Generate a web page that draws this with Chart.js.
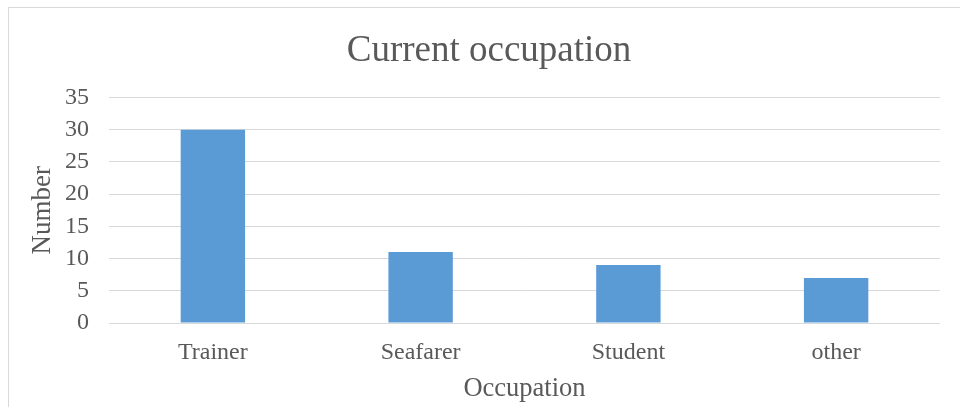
<!DOCTYPE html>
<html>
<head>
<meta charset="utf-8">
<script src="https://cdn.jsdelivr.net/npm/chart.js@4"></script>
<style>
body { margin: 0; background: #fff; }
#wrap { position: relative; width: 960px; height: 407px; overflow: hidden; }
#frame { position: absolute; left: 8px; top: 7px; width: 1000px; height: 500px; border: 1px solid #d9d9d9; box-sizing: border-box; }
#occChart { position: absolute; left: 0; top: 0; }
</style>
</head>
<body>
<div id="wrap">
<div id="frame"></div>
<canvas id="occChart" width="960" height="407"></canvas>
</div>
<script>
// data
var occupations = ["Trainer", "Seafarer", "Student", "other"];
var counts = [30, 11, 9, 7];
var yTicks = [0, 5, 10, 15, 20, 25, 30, 35];

var serif = "'Liberation Serif', 'Times New Roman', serif";
var grey = "#595959";

var occCanvas = document.getElementById("occChart");

var occData = {
    labels: occupations,
    datasets: [{
        label: "Number",
        data: counts,
        backgroundColor: "#5B9BD5",
        borderWidth: 0,
        categoryPercentage: 1,
        barPercentage: 0.31
    }]
};

var occOptions = {
    responsive: false,
    animation: false,
    layout: { padding: { left: 38, right: 20, top: 0, bottom: 0 } },
    plugins: {
        legend: { display: false },
        tooltip: { enabled: false },
        title: {
            display: true,
            text: "Current occupation",
            color: grey,
            font: { family: serif, size: 37, weight: "normal" },
            padding: { top: 29, bottom: 24 }
        }
    },
    scales: {
        x: {
            grid: { display: false, drawTicks: false },
            border: { display: false },
            ticks: { color: grey, font: { family: serif, size: 24 }, padding: 15 },
            title: {
                display: true,
                text: "Occupation",
                color: grey,
                font: { family: serif, size: 26.5 },
                padding: { top: 0, bottom: 2 }
            },
            afterFit: function (s) { s.height = 84; }
        },
        y: {
            min: 0,
            max: 35,
            afterBuildTicks: function (s) { s.ticks = yTicks.map(function (v) { return { value: v }; }); },
            grid: { color: "#d9d9d9", lineWidth: 1, drawTicks: false },
            border: { display: false },
            ticks: { color: grey, font: { family: serif, size: 24 }, padding: 20 },
            title: {
                display: true,
                text: "Number",
                color: grey,
                font: { family: serif, size: 27, lineHeight: 0.38 },
                padding: { top: 0, bottom: 0 }
            },
            afterFit: function (s) { s.width = 71; }
        }
    }
};

var occChart = new Chart(occCanvas, {
    type: "bar",
    data: occData,
    options: occOptions
});
</script>
</body>
</html>
